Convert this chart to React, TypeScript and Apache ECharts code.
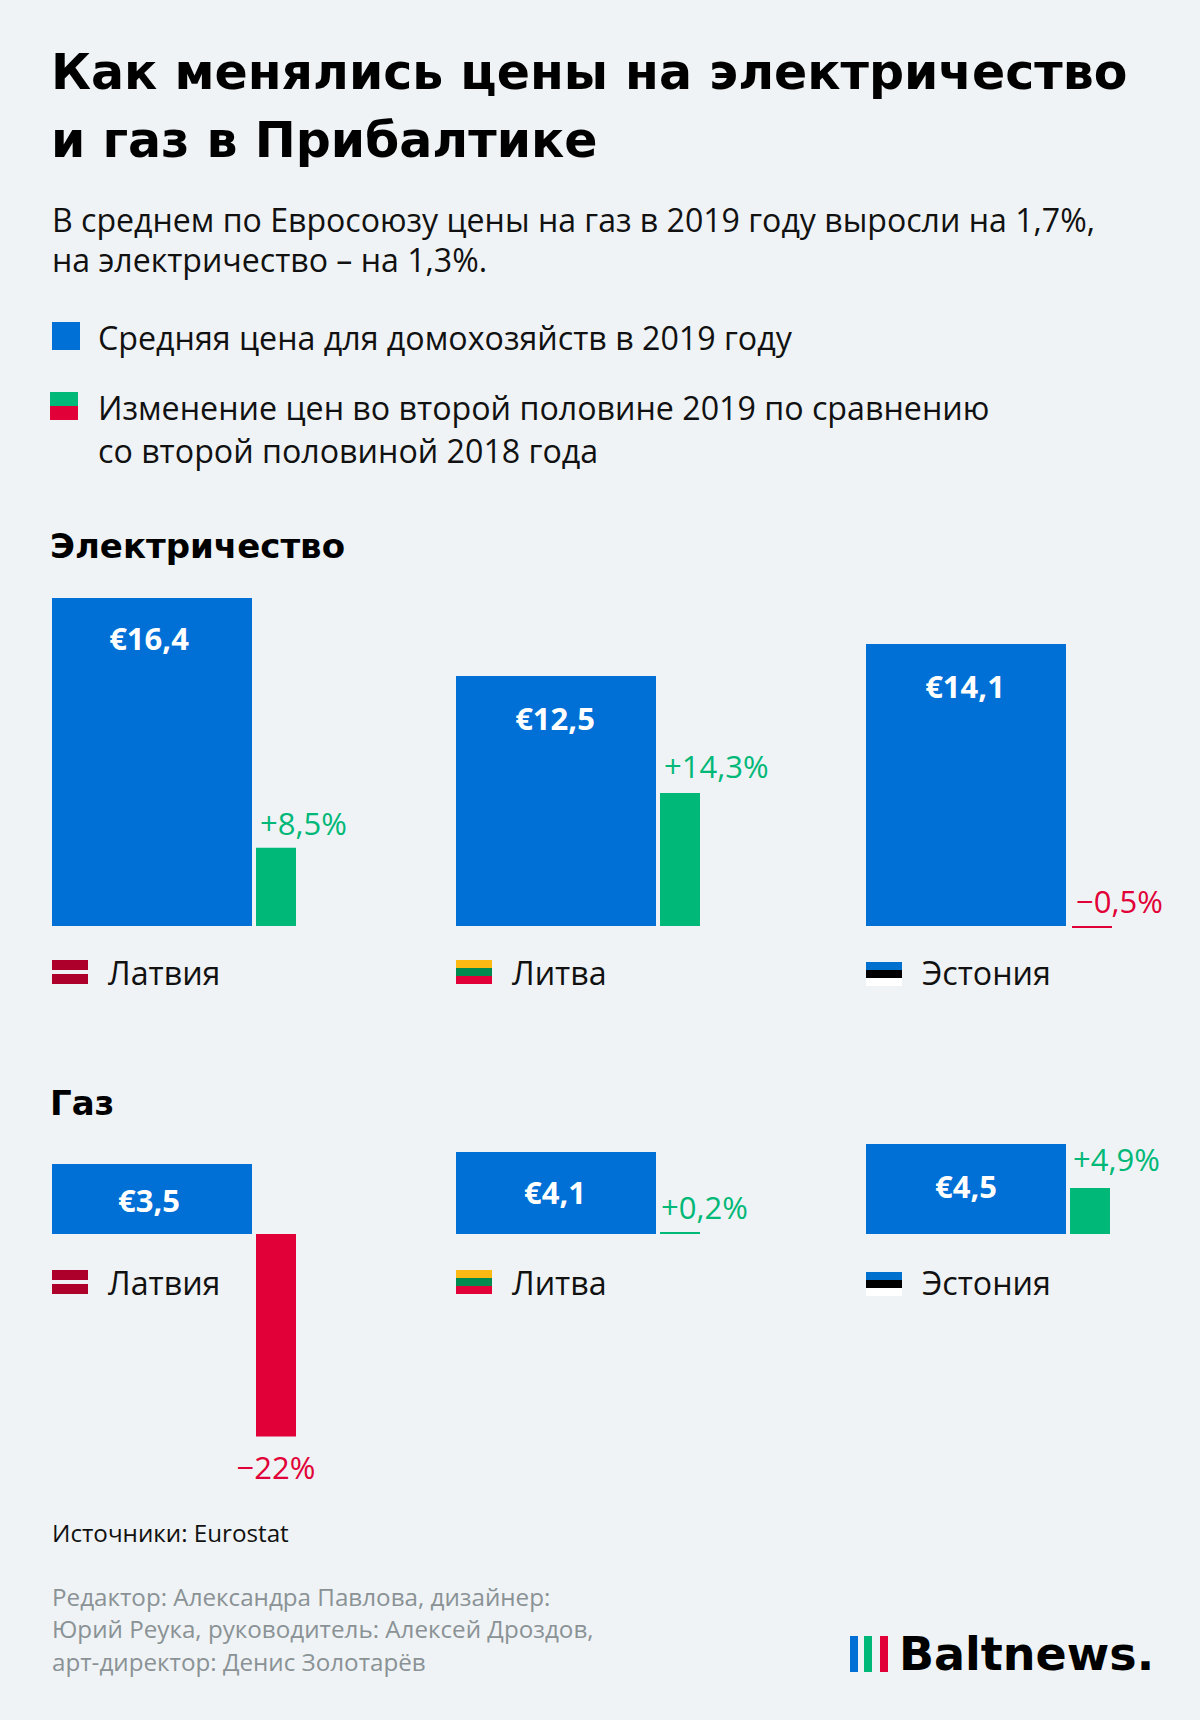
import React, { useEffect, useRef } from "react";
import * as echarts from "echarts";

const countries = ["Латвия", "Литва", "Эстония"];
const electricityPrice = [16.4, 12.5, 14.1];
const electricityChange = [8.5, 14.3, -0.5];
const gasPrice = [3.5, 4.1, 4.5];
const gasChange = [-22, 0.2, 4.9];

const titleLines = ["Как менялись цены на электричество", "и газ в Прибалтике"];
const subtitleLines = [
  "В среднем по Евросоюзу цены на газ в 2019 году выросли на 1,7%,",
  "на электричество – на 1,3%.",
];
const legendPrice = "Средняя цена для домохозяйств в 2019 году";
const legendChangeLines = [
  "Изменение цен во второй половине 2019 по сравнению",
  "со второй половиной 2018 года",
];
const sectionElectricity = "Электричество";
const sectionGas = "Газ";
const sourceText = "Источники: Eurostat";
const creditLines = [
  "Редактор: Александра Павлова, дизайнер:",
  "Юрий Реука, руководитель: Алексей Дроздов,",
  "арт-директор: Денис Золотарёв",
];
const logoText = "Baltnews.";

const BG = "#eff3f5";
const BLUE = "#006fd6";
const GREEN = "#00b877";
const RED = "#e10037";
const BODY = '"Open Sans", sans-serif';
const HEAD = '"DejaVu Sans", sans-serif';

const fmtPrice = (v: number) => "€" + v.toFixed(1).replace(".", ",");
const fmtChange = (v: number) =>
  (v < 0 ? "−" : "+") + String(Math.abs(v)).replace(".", ",") + "%";

const PX_PER_EUR = 20;

function panel(
  i: number,
  left: number,
  base: number,
  up: number,
  down: number,
  pxPerPct: number,
  price: number,
  change: number,
  priceLabelPos: any,
  changeLabelPos: any,
  changeAlign: string,
  gapPx: number = 4
) {
  const grid = { left, width: 240 + gapPx, top: base - up, height: up + down };
  const xAxis = { gridIndex: i, type: "category", data: [countries[i % 3]], show: false };
  const yPrice = { gridIndex: i, type: "value", show: false, min: -down / PX_PER_EUR, max: up / PX_PER_EUR };
  const yChange = { gridIndex: i, type: "value", show: false, min: -down / pxPerPct, max: up / pxPerPct };
  const col = change >= 0 ? GREEN : RED;
  const series = [
    {
      type: "bar",
      name: "price" + i,
      xAxisIndex: i,
      yAxisIndex: i * 2,
      barWidth: 200,
      barGap: gapPx / 2 + "%",
      itemStyle: { color: BLUE },
      label: {
        show: true,
        formatter: (p: any) => fmtPrice(p.value),
        color: "#fff",
        fontFamily: BODY,
        fontWeight: 700,
        fontSize: 31,
        position: priceLabelPos,
        align: "center",
        verticalAlign: "middle",
      },
      data: [price],
    },
    {
      type: "bar",
      name: "change" + i,
      xAxisIndex: i,
      yAxisIndex: i * 2 + 1,
      barWidth: 40,
      barMinHeight: 2,
      itemStyle: { color: col },
      label: {
        show: true,
        formatter: (p: any) => fmtChange(p.value),
        color: col,
        fontFamily: BODY,
        fontWeight: 400,
        fontSize: 31,
        position: changeLabelPos,
        align: changeAlign,
        verticalAlign: "middle",
      },
      data: [change],
    },
  ];
  return { grid, xAxis, yAxes: [yPrice, yChange], series };
}

function text(str: string, x: number, y: number, fontSize: number, opts: any = {}) {
  return {
    type: "text",
    x,
    y,
    silent: true,
    style: {
      text: str,
      fontSize,
      fontFamily: opts.family || BODY,
      fontWeight: opts.weight || 400,
      fill: opts.fill || "#111",
      textAlign: "left",
      textVerticalAlign: "middle",
    },
  };
}

const rect = (x: number, y: number, width: number, height: number, fill: string) => ({
  type: "rect",
  silent: true,
  shape: { x, y, width, height },
  style: { fill },
});

function flag(i: number, x: number, y: number) {
  if (i === 0)
    return [rect(x, y, 36, 10, "#ad002b"), rect(x, y + 14, 36, 10, "#ad002b")];
  const cols = i === 1 ? ["#fdb913", "#008a50", RED] : ["#0070cf", "#000000", "#ffffff"];
  return cols.map((c, k) => rect(x, y + k * 8, 36, 8, c));
}

function buildOption() {
  const lefts = [52, 456, 866];
  const panels = [
    panel(0, lefts[0], 926, 368, 8, 9.2, electricityPrice[0], electricityChange[0], [97, 40], [4, -25], "left"),
    panel(1, lefts[1], 926, 368, 8, 9.3, electricityPrice[1], electricityChange[1], [99, 42], [4, -27], "left"),
    panel(2, lefts[2], 926, 368, 8, 4, electricityPrice[2], electricityChange[2], [99, 42], [4, -25], "left", 6),
    panel(3, lefts[0], 1234, 92, 230, 9.2, gasPrice[0], gasChange[0], [97, 36], [20, 233], "center"),
    panel(4, lefts[1], 1234, 92, 230, 9.2, gasPrice[1], gasChange[1], [99, 40], [1, -25], "left"),
    panel(5, lefts[2], 1234, 92, 230, 9.4, gasPrice[2], gasChange[2], [100, 42], [3, -29], "left"),
  ];

  const graphics: any[] = [];
  titleLines.forEach((t, i) => graphics.push(text(t, 51, 72 + i * 68, 49, { family: HEAD, weight: 700, fill: "#000" })));
  subtitleLines.forEach((t, i) => graphics.push(text(t, 52, 219 + i * 40, 32.1)));
  graphics.push(rect(52, 322, 28, 28, BLUE));
  graphics.push(text(legendPrice, 98, 337.5, 32.2));
  graphics.push(rect(50, 392, 28, 14, GREEN), rect(50, 406, 28, 14, RED));
  legendChangeLines.forEach((t, i) => graphics.push(text(t, 98, 407 + i * 43, 32.2)));
  graphics.push(text(sectionElectricity, 50, 546, 34, { family: HEAD, weight: 700, fill: "#000" }));
  graphics.push(text(sectionGas, 50, 1103, 34, { family: HEAD, weight: 700, fill: "#000" }));

  const flagY = [960, 960, 962];
  const flagX = [52, 456, 866];
  const labelX = [108, 512, 922];
  countries.forEach((c, i) => {
    graphics.push(...flag(i, flagX[i], flagY[i]));
    graphics.push(text(c, labelX[i], 972, 32.2));
    graphics.push(...flag(i, flagX[i], flagY[i] + 310));
    graphics.push(text(c, labelX[i], 1282, 32.2));
  });

  graphics.push(text(sourceText, 52, 1532.5, 24.2));
  creditLines.forEach((t, i) => graphics.push(text(t, 52, 1596 + i * 32.5, 24.2, { fill: "#8a9296" })));
  graphics.push(rect(850, 1636, 8, 36, BLUE), rect(864, 1636, 8, 36, GREEN), rect(880, 1636, 8, 36, RED));
  graphics.push(text(logoText, 899, 1654, 46, { family: HEAD, weight: 700, fill: "#000" }));

  return {
    animation: false,
    backgroundColor: BG,
    tooltip: { show: false },
    grid: panels.map((p) => p.grid),
    xAxis: panels.map((p) => p.xAxis),
    yAxis: panels.flatMap((p) => p.yAxes),
    series: panels.flatMap((p) => p.series),
    graphic: { elements: graphics },
  };
}

export default function App() {
  const ref = useRef<HTMLDivElement>(null);
  useEffect(() => {
    const chart = echarts.init(ref.current!, undefined, { renderer: "svg" });
    chart.setOption(buildOption() as any);
    return () => chart.dispose();
  }, []);
  return <div ref={ref} style={{ position: "absolute", left: 0, top: 0, width: 1200, height: 1720, background: BG }} />;
}
